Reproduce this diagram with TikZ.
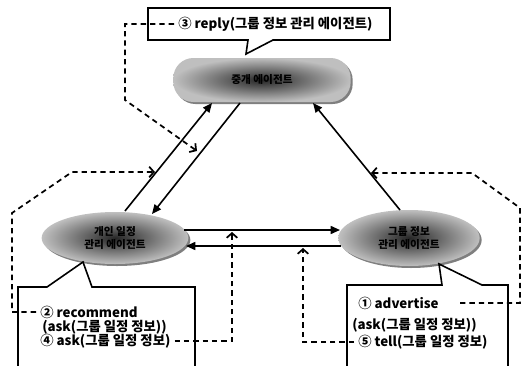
\documentclass[tikz,border=0pt]{standalone}
\usepackage{fontspec}
\setmainfont{Noto Sans CJK KR}
\usetikzlibrary{arrows.meta,shapes.geometric,shadows}

\begin{document}
\begin{tikzpicture}[x=0.75pt,y=-0.75pt,
  agent/.style={shade,shading=radial,inner color=black!85,outer color=gray!50,
    drop shadow={shadow xshift=1.5pt,shadow yshift=-1.5pt,fill=black},
    font=\bfseries\footnotesize,align=center,inner sep=0pt},
  link/.style={-{Triangle[length=7pt,width=6pt]},line width=1.2pt},
  msg/.style={-{Straight Barb[length=3.5pt,width=8pt]},dash pattern=on 4pt off 3pt,line width=1.3pt},
  callout/.style={line width=1.2pt},
  lbl/.style={anchor=west,font=\bfseries,inner sep=0pt}]
\useasboundingbox (0,0) rectangle (526,365);

% agents
\node[agent,rounded corners=15pt,minimum width=133pt,minimum height=33pt] (broker) at (262,80) {중개 에이전트};
\node[agent,ellipse,minimum width=110pt,minimum height=39pt] (user) at (115,238) {개인 일정\\관리 에이전트};
\node[agent,ellipse,minimum width=106pt,minimum height=42pt] (group) at (409,238) {그룹 정보\\관리 에이전트};

% end points of the links
\coordinate (a0) at (125,211); \coordinate (a1) at (212,103);
\coordinate (b0) at (240,103); \coordinate (b1) at (152,214);
\coordinate (c0) at (400,210); \coordinate (c1) at (313,103);
\coordinate (d0) at (184,230); \coordinate (d1) at (340,230);
\coordinate (e0) at (341,246); \coordinate (e1) at (186,246);
\draw[link] (a0) -- (a1);
\draw[link] (b0) -- (b1);
\draw[link] (c0) -- (c1);
\draw[link] (d0) -- (d1);
\draw[link] (e0) -- (e1);

% callouts
\draw[callout] (148,8) -- (390,8) -- (390,40) -- (273,40) -- (246,54) -- (248,40) -- (148,40) -- cycle;
\draw[callout] (18,366) -- (18,287) -- (47,287) -- (83,262) -- (92,287) -- (195,287) -- (195,366);
\draw[callout] (347,366) -- (347,285) -- (442,285) -- (439,264) -- (482,285) -- (508,285) -- (508,366);

% messages
\node[lbl] (rep) at (178,24) {③ reply(그룹 정보 관리 에이전트)};
\node[lbl] (rec) at (40,312) {② recommend};
\node[lbl] (recb) at (42,327) {(ask(그룹 일정 정보))};
\node[lbl] (ask) at (40,341) {④ ask(그룹 일정 정보)};
\node[lbl] (adv) at (358,303) {① advertise};
\node[lbl] (advb) at (352,325) {(ask(그룹 일정 정보))};
\node[lbl] (tell) at (358,342) {⑤ tell(그룹 일정 정보)};

\coordinate (q3) at (197,151);
\coordinate (q2) at (155,172);
\coordinate (q4) at (232,232);
\coordinate (q5) at (303,248);
\coordinate (q1) at (371,173);
\draw[msg] ([xshift=-3pt]rep.west) -- (125,24) -- (125,100) -- (q3);
\draw[msg] ([xshift=-3pt]rec.west) -- (12,312) -- (12,213) -- (72,172) -- (q2);
\draw[msg] ([xshift=3pt]ask.east) -- (232,341) -- (q4);
\draw[msg] ([xshift=-3pt]tell.west) -- (303,342) -- (q5);
\draw[msg] ([xshift=16pt]adv.east) -- (520,303) -- (520,208) -- (472,173) -- (q1);
\end{tikzpicture}
\end{document}
